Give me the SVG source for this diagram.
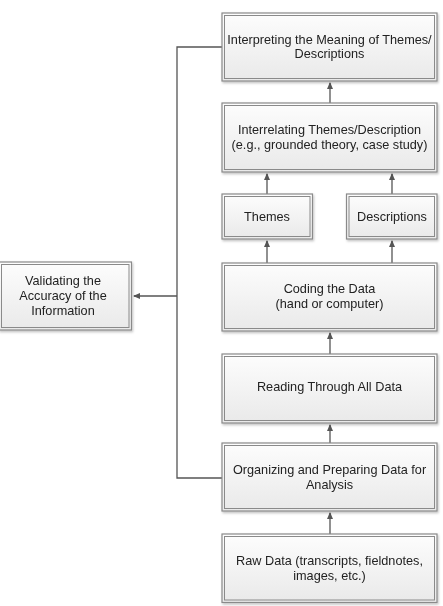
<svg xmlns="http://www.w3.org/2000/svg" width="443" height="606" viewBox="0 0 443 606">
<style>
.outer{fill:url(#g);stroke:#8a8a8a;stroke-width:1.2}
.inner{fill:none;stroke:#8a8a8a;stroke-width:1}
.t{font-family:"Liberation Sans",Arial,sans-serif;font-size:12.7px;fill:#222;text-anchor:middle}
.c{fill:none;stroke:#555;stroke-width:1.3}
</style>
<defs>
<linearGradient id="g" x1="0" y1="0" x2="0" y2="1">
<stop offset="0" stop-color="#fdfdfd"/>
<stop offset="1" stop-color="#e9e9e9"/>
</linearGradient>
<filter id="sh" x="-10%" y="-10%" width="120%" height="130%">
<feDropShadow dx="1" dy="1.5" stdDeviation="1" flood-color="#000" flood-opacity="0.25"/>
</filter>
<marker id="a" markerWidth="8" markerHeight="8" refX="6" refY="3.5" orient="auto" markerUnits="userSpaceOnUse">
<path d="M0,0.5 L7,3.5 L0,6.5 Z" fill="#555"/>
</marker>
</defs>
<g id="connectors">
<line class="c" x1="330" y1="534" x2="330" y2="513" marker-end="url(#a)"/>
<line class="c" x1="330" y1="443" x2="330" y2="425" marker-end="url(#a)"/>
<line class="c" x1="330" y1="354" x2="330" y2="333" marker-end="url(#a)"/>
<line class="c" x1="267" y1="263" x2="267" y2="241" marker-end="url(#a)"/>
<line class="c" x1="392" y1="263" x2="392" y2="241" marker-end="url(#a)"/>
<line class="c" x1="267" y1="194" x2="267" y2="174" marker-end="url(#a)"/>
<line class="c" x1="392" y1="194" x2="392" y2="174" marker-end="url(#a)"/>
<line class="c" x1="330" y1="103" x2="330" y2="83" marker-end="url(#a)"/>
<polyline class="c" points="222,47 177,47 177,478 222,478"/>
<line class="c" x1="177" y1="296" x2="134" y2="296" marker-end="url(#a)"/>
</g>
<g id="interpreting" filter="url(#sh)">
<rect class="outer" x="222" y="13" width="215" height="68"/>
<rect class="inner" x="224.5" y="15.5" width="210" height="63"/>
<text class="t" x="329.5" y="43.5">Interpreting the Meaning of Themes/</text>
<text class="t" x="329.5" y="58">Descriptions</text>
</g>
<g id="interrelating" filter="url(#sh)">
<rect class="outer" x="222" y="103" width="215" height="69"/>
<rect class="inner" x="224.5" y="105.5" width="210" height="64"/>
<text class="t" x="329.5" y="133.5">Interrelating Themes/Description</text>
<text class="t" x="329.5" y="148.5">(e.g., grounded theory, case study)</text>
</g>
<g id="themes" filter="url(#sh)">
<rect class="outer" x="222" y="194" width="90.5" height="45"/>
<rect class="inner" x="224.5" y="196.5" width="85.5" height="40"/>
<text class="t" x="267" y="220.5">Themes</text>
</g>
<g id="descriptions" filter="url(#sh)">
<rect class="outer" x="346.5" y="194" width="90.5" height="45"/>
<rect class="inner" x="349" y="196.5" width="85.5" height="40"/>
<text class="t" x="392" y="220.5">Descriptions</text>
</g>
<g id="coding" filter="url(#sh)">
<rect class="outer" x="222" y="263" width="215" height="68"/>
<rect class="inner" x="224.5" y="265.5" width="210" height="63"/>
<text class="t" x="329.5" y="292.5">Coding the Data</text>
<text class="t" x="329.5" y="308">(hand or computer)</text>
</g>
<g id="reading" filter="url(#sh)">
<rect class="outer" x="222" y="354" width="215" height="69"/>
<rect class="inner" x="224.5" y="356.5" width="210" height="64"/>
<text class="t" x="329.5" y="391">Reading Through All Data</text>
</g>
<g id="organizing" filter="url(#sh)">
<rect class="outer" x="222" y="443" width="215" height="68"/>
<rect class="inner" x="224.5" y="445.5" width="210" height="63"/>
<text class="t" x="329.5" y="474">Organizing and Preparing Data for</text>
<text class="t" x="329.5" y="489">Analysis</text>
</g>
<g id="raw" filter="url(#sh)">
<rect class="outer" x="222" y="534" width="215" height="68.5"/>
<rect class="inner" x="224.5" y="536.5" width="210" height="63.5"/>
<text class="t" x="329.5" y="565">Raw Data (transcripts, fieldnotes,</text>
<text class="t" x="329.5" y="580">images, etc.)</text>
</g>
<g id="validating" filter="url(#sh)">
<rect class="outer" x="-1" y="262" width="132.5" height="68"/>
<rect class="inner" x="1.5" y="264.5" width="127.5" height="63"/>
<text class="t" x="63" y="285">Validating the</text>
<text class="t" x="63" y="300">Accuracy of the</text>
<text class="t" x="63" y="315">Information</text>
</g>
</svg>
